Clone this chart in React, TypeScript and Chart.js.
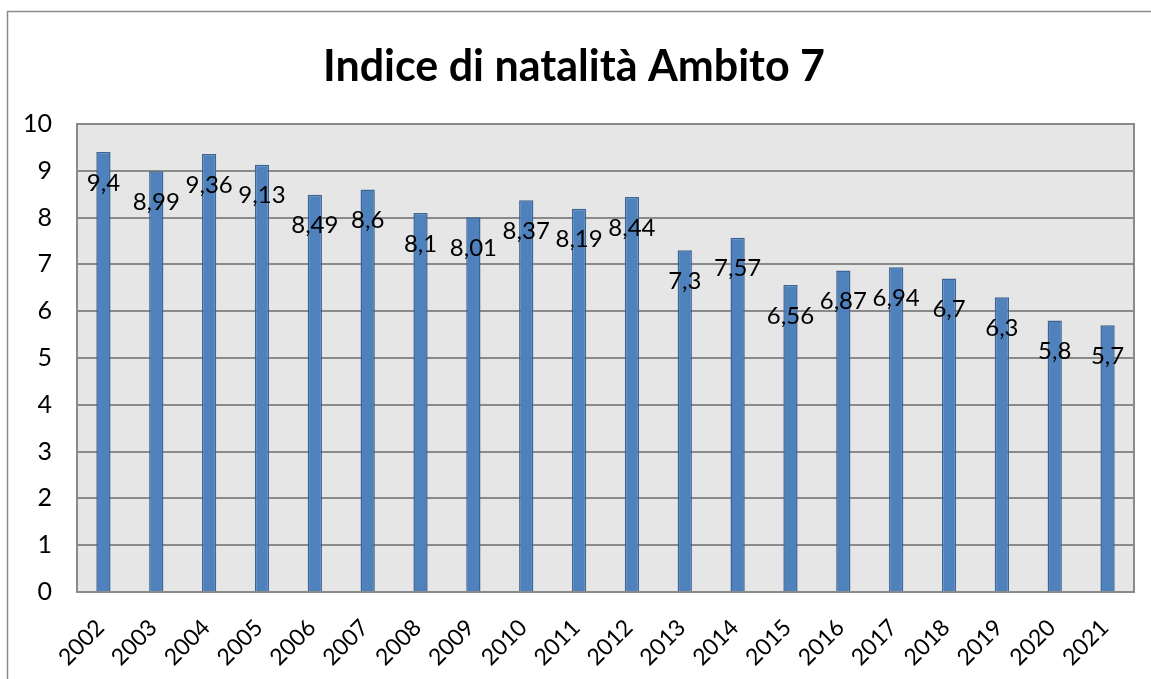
import React, { useEffect, useRef } from "react";
import { Chart, registerables } from "chart.js";

Chart.register(...registerables);

const categories = ["2002","2003","2004","2005","2006","2007","2008","2009","2010","2011","2012","2013","2014","2015","2016","2017","2018","2019","2020","2021"];
const values = [9.4, 8.99, 9.36, 9.13, 8.49, 8.6, 8.1, 8.01, 8.37, 8.19, 8.44, 7.3, 7.57, 6.56, 6.87, 6.94, 6.7, 6.3, 5.8, 5.7];
const titleText = "Indice di natalità Ambito 7";
const FONT = "Lato, Calibri, 'Noto Sans', sans-serif";

const decor = {
  id: "decor",
  beforeDraw(chart: any) {
    const { ctx, chartArea } = chart;
    ctx.save();
    ctx.fillStyle = "#e6e6e6";
    ctx.fillRect(chartArea.left, chartArea.top, chartArea.right - chartArea.left, chartArea.bottom - chartArea.top);
    // outer frame
    ctx.strokeStyle = "#8a8a8a";
    ctx.lineWidth = 1.5;
    ctx.beginPath();
    ctx.moveTo(7.5, chart.height);
    ctx.lineTo(7.5, 11.5);
    ctx.lineTo(chart.width, 11.5);
    ctx.stroke();
    // title
    ctx.fillStyle = "#000";
    ctx.font = `bold 43px ${FONT}`;
    ctx.textAlign = "center";
    ctx.textBaseline = "middle";
    ctx.fillText(titleText, 574, 67);
    ctx.restore();
  },
  afterDraw(chart: any) {
    const { ctx, chartArea } = chart;
    ctx.save();
    ctx.strokeStyle = "#8a8a8a";
    ctx.lineWidth = 2;
    ctx.strokeRect(chartArea.left, chartArea.top, chartArea.right - chartArea.left, chartArea.bottom - chartArea.top);
    // value labels
    const meta = chart.getDatasetMeta(0);
    const ys = chart.scales.y;
    ctx.fillStyle = "#000";
    ctx.font = `24px ${FONT}`;
    ctx.textAlign = "center";
    ctx.textBaseline = "middle";
    meta.data.forEach((bar: any, i: number) => {
      const v = values[i];
      const y = ys.getPixelForValue(v) + 31;
      ctx.fillText(String(v).replace(".", ","), bar.x, y);
    });
    ctx.restore();
  },
};

export default function App() {
  const ref = useRef<HTMLCanvasElement>(null);
  useEffect(() => {
    if (!ref.current) return;
    const chart = new Chart(ref.current, {
      type: "bar",
      data: {
        labels: categories,
        datasets: [
          {
            data: values,
            backgroundColor: "#4f81bd",
            borderColor: "#3a6594",
            borderWidth: 1.5,
            categoryPercentage: 1,
            barPercentage: 0.27,
          },
        ],
      },
      options: {
        responsive: false,
        animation: false,
        layout: { padding: { top: 124, right: 17, left: 0, bottom: 0 } },
        plugins: { legend: { display: false }, title: { display: false }, tooltip: { enabled: false } },
        scales: {
          x: {
            grid: { display: false, drawTicks: false },
            border: { display: false },
            ticks: {
              color: "#000",
              font: { family: FONT, size: 23 },
              maxRotation: 45,
              minRotation: 45,
              padding: 22,
              labelOffset: -3,
              autoSkip: false,
            },
            afterFit(scale: any) {
              scale.height = 87;
            },
          },
          y: {
            min: 0,
            max: 10,
            grid: { color: "#8a8a8a", lineWidth: 2, drawTicks: false },
            border: { display: false },
            ticks: {
              stepSize: 1,
              color: "#000",
              font: { family: FONT, size: 25 },
              padding: 25,
            },
            afterFit(scale: any) {
              scale.width = 77;
            },
          },
        },
      },
      plugins: [decor],
    });
    return () => chart.destroy();
  }, []);
  return (
    <div style={{ position: "absolute", left: 0, top: 0, width: 1151, height: 679 }}>
      <canvas ref={ref} width={1151} height={679} style={{ display: "block" }} />
    </div>
  );
}
